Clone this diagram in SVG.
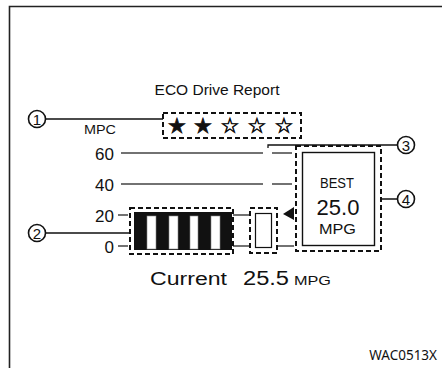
<svg xmlns="http://www.w3.org/2000/svg" width="442" height="368" viewBox="0 0 442 368">
<style>
.t{font-family:"Liberation Sans",Arial,sans-serif;fill:#111}
.c{fill:#fff;stroke:#111;stroke-width:1.6}
.n{font-family:"Liberation Sans",Arial,sans-serif;font-size:15px;fill:#111;text-anchor:middle}
.ld{stroke:#111;stroke-width:1.3;fill:none}
.g{stroke:#444;stroke-width:1.6;fill:none}
.d{fill:none;stroke:#111;stroke-width:2;stroke-dasharray:5 3}
.s{font-family:"DejaVu Sans",sans-serif;font-size:21px;fill:#111;stroke:#111;stroke-width:0.7;text-anchor:middle}
</style>
<rect width="442" height="368" fill="#fff"/>
<path d="M9.5 368V6.5H442" fill="none" stroke="#222" stroke-width="1.6"/>
<text class="t" x="217" y="95" font-size="15.5" text-anchor="middle">ECO Drive Report</text>
<g id="axis">
<text class="t" x="84" y="134" font-size="12.5" textLength="32" lengthAdjust="spacingAndGlyphs">MPC</text>
<text class="t" x="114" y="159.5" font-size="17" text-anchor="end">60</text>
<text class="t" x="114" y="190.5" font-size="17" text-anchor="end">40</text>
<text class="t" x="114" y="221.5" font-size="17" text-anchor="end">20</text>
<text class="t" x="114" y="252.5" font-size="17" text-anchor="end">0</text>
</g>
<g id="connectors">
<path class="g" d="M121 153H263M272 153H292M121 184H263M272 184H292"/>
<path class="g" d="M118 215H128M118 246H128M233 215H250M233 246H250M277 246H294"/>
<path class="ld" d="M46 119H163M46 233H130M268 148V145H397M381 199H397"/>
<polygon points="283,214 294,207 294,220" fill="#111"/>
</g>
<g id="n1"><circle class="c" cx="37" cy="119" r="8.5"/><text class="n" x="37" y="124.5">1</text></g>
<g id="n2"><circle class="c" cx="37" cy="233" r="8.5"/><text class="n" x="37" y="238.5">2</text></g>
<g id="n3"><circle class="c" cx="406" cy="145" r="8.5"/><text class="n" x="406" y="150.5">3</text></g>
<g id="n4"><circle class="c" cx="406" cy="199" r="8.5"/><text class="n" x="406" y="204.5">4</text></g>
<g id="stars">
<rect class="d" x="163" y="113" width="138" height="25"/>
<text class="s" x="177" y="133">★</text>
<text class="s" x="203" y="133">★</text>
<text class="s" x="230" y="133">☆</text>
<text class="s" x="257" y="133">☆</text>
<text class="s" x="284" y="133">☆</text>
</g>
<g id="bars">
<rect class="d" x="130" y="208" width="103" height="46"/>
<rect x="134" y="212" width="98" height="38" fill="#111"/>
<g fill="#fff" stroke="#888" stroke-width="0.6">
<rect x="147" y="216" width="9" height="33"/>
<rect x="169" y="216" width="9" height="33"/>
<rect x="190" y="216" width="8" height="33"/>
<rect x="211" y="216" width="9" height="33"/>
</g>
</g>
<g id="current">
<rect class="d" x="250" y="208" width="27" height="45"/>
<rect x="255.5" y="213.5" width="16" height="34" fill="#fff" stroke="#111" stroke-width="1.2"/>
</g>
<g id="best">
<rect class="d" x="296" y="146" width="85" height="105"/>
<rect x="302.5" y="152.5" width="72" height="93" fill="#fff" stroke="#111" stroke-width="1.4"/>
<text class="t" x="320" y="188" font-size="14" textLength="34" lengthAdjust="spacingAndGlyphs">BEST</text>
<text class="t" x="338" y="215" font-size="22" text-anchor="middle">25.0</text>
<text class="t" x="319" y="234" font-size="14.5" textLength="37" lengthAdjust="spacingAndGlyphs">MPG</text>
</g>
<g id="reading">
<text class="t" x="150" y="285" font-size="18" textLength="77" lengthAdjust="spacingAndGlyphs">Current</text>
<text class="t" x="243" y="285" font-size="20" textLength="46" lengthAdjust="spacingAndGlyphs">25.5</text>
<text class="t" x="294" y="285" font-size="13" textLength="37" lengthAdjust="spacingAndGlyphs">MPG</text>
</g>
<text x="437" y="360" font-family="Noto Sans,DejaVu Sans,sans-serif" font-size="13.5" text-anchor="end" fill="#111">WAC0513X</text>
</svg>
